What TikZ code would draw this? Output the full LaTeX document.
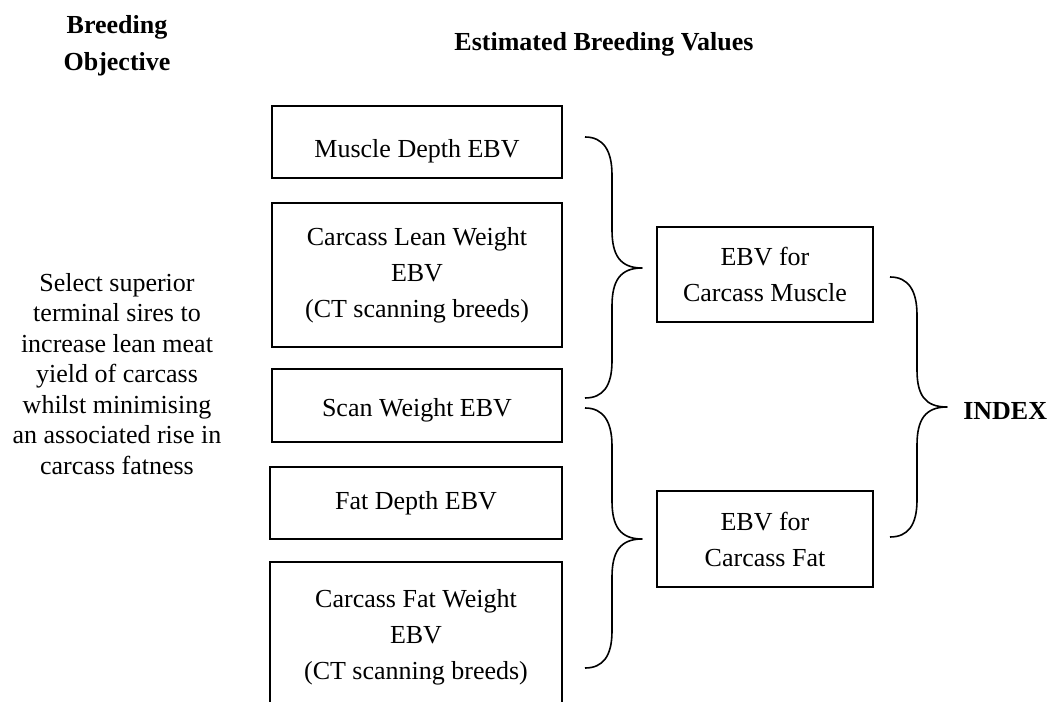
\documentclass[tikz,border=0pt]{standalone}
\usepackage{fontspec}
\setmainfont{Liberation Serif}
\usepackage{tikz}

\begin{document}
\begin{tikzpicture}[x=0.75pt,y=0.75pt,yscale=-1,xscale=1,
	ebvbox/.style={draw, line width=1.3pt, align=center, inner sep=0pt, font=\fontsize{19.5}{27}\selectfont},
	bracepath/.style={line width=1.2pt, line join=round}]
				\clip (0,0) rectangle (1057,702);
				
				% Text Node
				\node [align=center, font=\bfseries\fontsize{19.5}{27.7}\selectfont] (objhead) at (117,46) {Breeding\\Objective};
				% Text Node
				\node [font=\bfseries\fontsize{19.5}{27}\selectfont] (ebvhead) at (604,44) {Estimated Breeding Values};
				% Text Node
				\node [align=center, font=\fontsize{19.5}{22.9}\selectfont] (objective) at (117,374) {Select superior\\terminal sires to\\increase lean meat\\yield of carcass\\whilst minimising\\an associated rise in\\carcass fatness};
				
				%Shape: Rectangle
				\node [ebvbox, minimum width=217.5pt, minimum height=54pt, text height=27pt, text depth=4pt] (mdepth) at (417,142) {Muscle Depth EBV};
				%Shape: Rectangle
				\node [ebvbox, minimum width=217.5pt, minimum height=108pt] (leanwt) at (417,275) {Carcass Lean Weight\\EBV\\(CT scanning breeds)};
				%Shape: Rectangle
				\node [ebvbox, minimum width=217.5pt, minimum height=54.75pt, text height=21pt, text depth=4pt] (scanwt) at (417,405.5) {Scan Weight EBV};
				%Shape: Rectangle
				\node [ebvbox, minimum width=219pt, minimum height=54pt] (fdepth) at (416,503) {Fat Depth EBV};
				%Shape: Rectangle
				\node [ebvbox, minimum width=219pt, minimum height=112.5pt] (fatwt) at (416,637) {Carcass Fat Weight\\EBV\\(CT scanning breeds)};
				%Shape: Rectangle
				\node [ebvbox, minimum width=162pt, minimum height=71.25pt] (muscle) at (765,274.5) {EBV for\\Carcass Muscle};
				%Shape: Rectangle
				\node [ebvbox, minimum width=162pt, minimum height=72pt] (fat) at (765,539) {EBV for\\Carcass Fat};
				
				%Shape: Brace
				\draw [bracepath] (585,137) .. controls (603,137) and (612,150) .. (612,175) -- (612,230) .. controls (612,255) and (620,268) .. (642,268) .. controls (620,268) and (612,281) .. (612,306) -- (612,361) .. controls (612,386) and (603,398) .. (585,398) ;
				%Shape: Brace
				\draw [bracepath] (585,408) .. controls (603,408) and (612,421) .. (612,446) -- (612,501) .. controls (612,526) and (620,539) .. (642,539) .. controls (620,539) and (612,552) .. (612,577) -- (612,631) .. controls (612,656) and (603,668) .. (585,668) ;
				%Shape: Brace
				\draw [bracepath] (890,277) .. controls (908,277) and (917,290) .. (917,315) -- (917,370) .. controls (917,395) and (925,407) .. (947,407) .. controls (925,407) and (917,420) .. (917,445) -- (917,500) .. controls (917,525) and (908,537) .. (890,537) ;
				
				% Text Node
				\node [anchor=west, inner sep=0pt, font=\bfseries\fontsize{19.5}{27}\selectfont] (index) at (963,411) {INDEX};
				
\end{tikzpicture}
\end{document}
